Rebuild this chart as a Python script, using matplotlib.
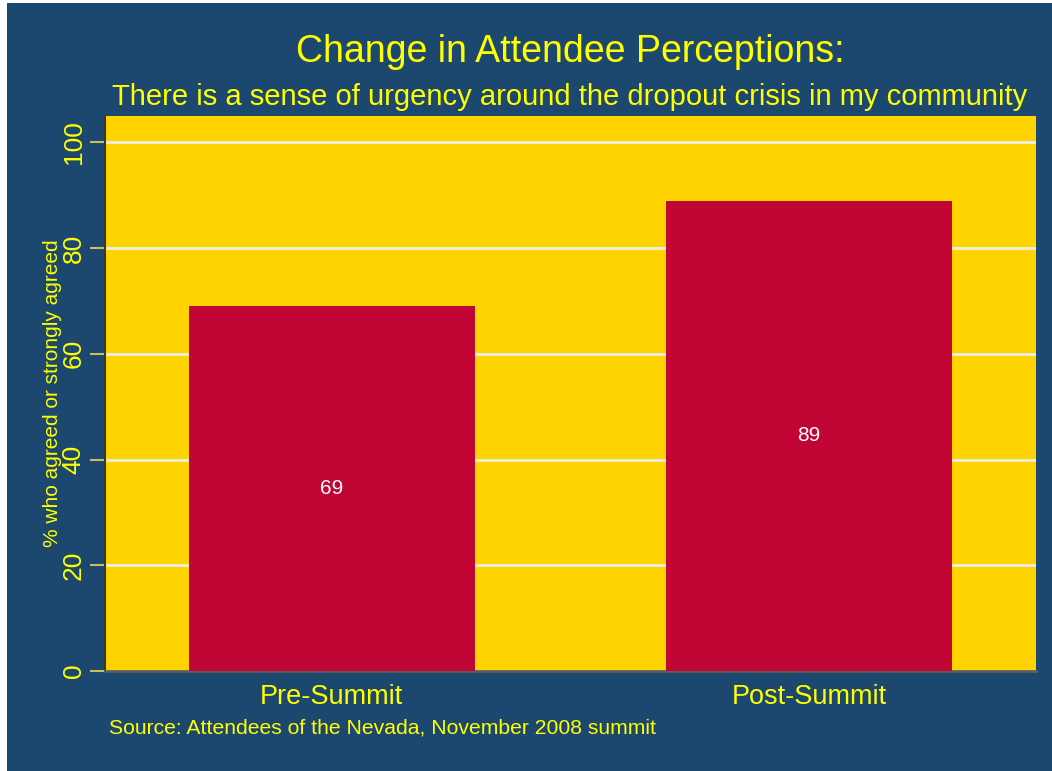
import matplotlib
matplotlib.use("Agg")
import matplotlib.pyplot as plt
from matplotlib.patches import Rectangle

# chart data
categories = ["Pre-Summit", "Post-Summit"]
pct_agreed = [69, 89]
y_ticks = [0, 20, 40, 60, 80, 100]

BLUE = "#1C4870"
GOLD = "#FFD300"
RED = "#C10534"
YELLOW = "#FFFF00"

plt.rcParams["font.family"] = ["Liberation Sans", "DejaVu Sans"]

fig = plt.figure(figsize=(10.52, 7.71), dpi=100, facecolor=BLUE)
W, H = 1052, 771

# thin white strip at top and left edge, as in the scanned original
fig.patches.append(Rectangle((0, 1 - 3 / H), 1, 3 / H, transform=fig.transFigure,
                             facecolor="white", edgecolor="none", zorder=-1))
fig.patches.append(Rectangle((0, 0), 7 / W, 1, transform=fig.transFigure,
                             facecolor="white", edgecolor="none", zorder=-1))

# plot area in pixels: x 105..1036, y 116..671
ax = fig.add_axes([105 / W, 1 - 671 / H, (1036 - 105) / W, (671 - 116) / H])
ax.set_facecolor(GOLD)

x = range(len(categories))
bars = ax.bar(x, pct_agreed, width=0.6, color=RED, zorder=3)
for b, v in zip(bars, pct_agreed):
    ax.text(b.get_x() + b.get_width() / 2, v / 2, str(v), ha="center", va="center",
            color="white", fontsize=15, zorder=4)

ax.set_xlim(-0.475, 1.475)
ax.set_ylim(0, 105)
ax.set_yticks(y_ticks)
ax.set_yticklabels([str(t) for t in y_ticks], rotation=90, va="center",
                   fontsize=19, color=YELLOW)
ax.set_xticks(list(x))
ax.set_xticklabels(categories, fontsize=19.5, color=YELLOW)
ax.tick_params(axis="x", length=0, pad=9)
ax.tick_params(axis="y", length=11, width=1.5, color="#C8C060", pad=3)

ax.yaxis.grid(True, color="#EEEEE6", linewidth=2, zorder=1)
ax.set_axisbelow(True)

for side in ["top", "right"]:
    ax.spines[side].set_visible(False)
ax.spines["left"].set_color("#3A3A20")
ax.spines["left"].set_linewidth(1.5)
ax.spines["bottom"].set_color("#5A6060")
ax.spines["bottom"].set_linewidth(2)

ax.set_ylabel("% who agreed or strongly agreed", fontsize=15, color=YELLOW, labelpad=0)

fig.text(570 / W, 1 - 52 / H, "Change in Attendee Perceptions:", ha="center", va="center",
         fontsize=27, color=YELLOW)
fig.text(570 / W, 1 - 97 / H,
         "There is a sense of urgency around the dropout crisis in my community",
         ha="center", va="center", fontsize=21, color=YELLOW)
fig.text(109 / W, 1 - 728 / H, "Source: Attendees of the Nevada, November 2008 summit",
         ha="left", va="center", fontsize=15.2, color=YELLOW)

fig.savefig("out.png", dpi=100, facecolor=BLUE)
